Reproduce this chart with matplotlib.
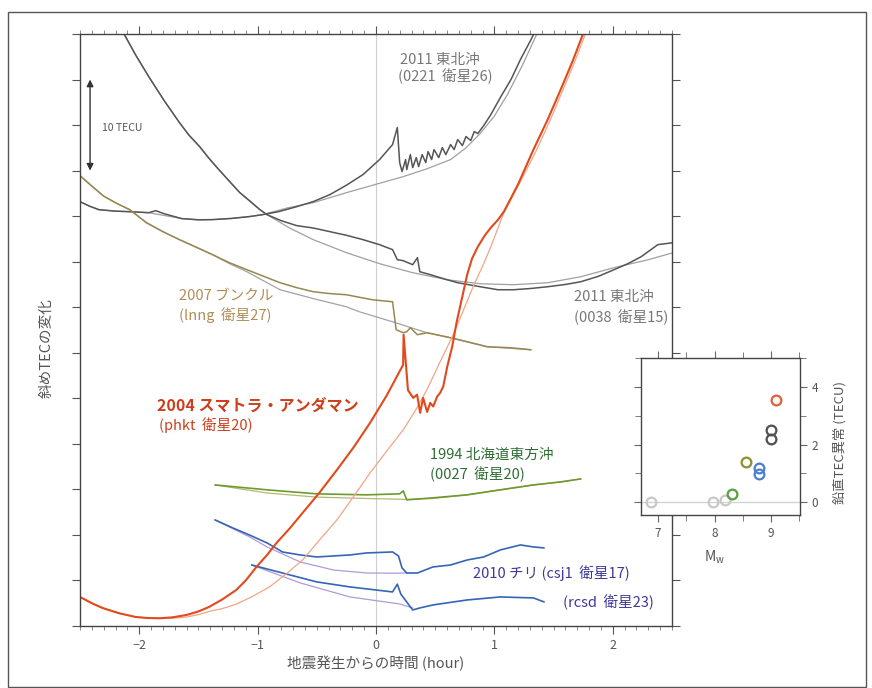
import matplotlib
matplotlib.use("Agg")
import matplotlib.pyplot as plt
from matplotlib.patches import Rectangle
from matplotlib.ticker import MultipleLocator, NullFormatter

plt.rcParams['font.family'] = ['Noto Sans CJK JP', 'DejaVu Sans']

# ---- slant TEC traces (hours from onset, TECU offset) ----
# 2004 Sumatra-Andaman (phkt, sat 20)
sum_t = [-2.50, -2.40, -2.31, -2.17, -2.03, -1.93, -1.83, -1.72, -1.60, -1.50, -1.41, -1.30,
         -1.18, -1.10, -1.01, -0.92, -0.84, -0.73, -0.62, -0.48, -0.33, -0.19, -0.05, 0.09,
         0.229, 0.233, 0.27, 0.314, 0.347, 0.373, 0.398, 0.432, 0.458, 0.483, 0.517, 0.542,
         0.568, 0.602, 0.644, 0.68, 0.71, 0.77, 0.81, 0.86, 0.92, 0.97, 1.03, 1.08, 1.20,
         1.33, 1.45, 1.56, 1.66, 1.75, 1.80]
sum_v = [3.19, 2.50, 1.98, 1.40, 0.99, 0.88, 0.85, 0.95, 1.21, 1.60, 2.09, 2.90,
         3.96, 5.00, 6.48, 7.80, 9.12, 10.70, 12.42, 14.60, 17.14, 19.60, 22.31, 25.30,
         28.68, 31.98, 25.90, 25.05, 25.40, 23.40, 25.05, 23.50, 24.50, 24.10, 25.20, 25.60,
         26.30, 28.50, 30.70, 33.30, 35.05, 38.57, 40.30, 41.65, 42.90, 43.74, 44.60, 45.49,
         48.50, 52.31, 55.60, 58.90, 62.00, 65.05, 67.00]
sum_ref_t = [-2.50, -2.40, -2.31, -2.17, -2.03, -1.93, -1.83, -1.72, -1.60, -1.50, -1.41,
             -1.30, -1.18, -1.05, -0.90, -0.76, -0.62, -0.48, -0.33, -0.19, -0.05, 0.09,
             0.23, 0.33, 0.43, 0.53, 0.64, 0.73, 0.82, 0.90, 0.97, 1.08, 1.22, 1.35, 1.47,
             1.58, 1.68, 1.77, 1.82]
sum_ref_v = [3.19, 2.50, 1.98, 1.40, 0.99, 0.88, 0.82, 0.85, 0.98, 1.25, 1.60,
             1.90, 2.40, 3.20, 4.29, 5.70, 7.25, 9.40, 11.65, 14.20, 16.81, 19.20,
             21.54, 23.60, 25.93, 28.70, 31.65, 34.40, 37.25, 39.50, 41.65, 45.38, 48.80,
             52.09, 55.50, 58.90, 62.00, 65.05, 67.00]

# 2011 Tohoku-oki (0221, sat 26)
toh26_t = [-2.50, -2.42, -2.34, -2.20, -2.08, -1.92, -1.86, -1.79, -1.64, -1.50, -1.38, -1.22,
           -1.07, -0.96, -0.82, -0.67, -0.53, -0.39, -0.25, -0.11, 0.03, 0.14, 0.18, 0.20,
           0.22, 0.25, 0.26, 0.29, 0.31, 0.34, 0.36, 0.39, 0.42, 0.44, 0.47, 0.49, 0.53,
           0.56, 0.59, 0.63, 0.66, 0.69, 0.73, 0.76, 0.80, 0.83, 0.86, 0.91, 0.97, 1.05,
           1.14, 1.22, 1.31, 1.35]
toh26_v = [46.59, 46.10, 45.71, 45.55, 45.49, 45.38, 45.60, 45.27, 44.73, 44.60, 44.62, 44.75,
           44.95, 45.16, 45.50, 46.04, 46.60, 47.36, 48.40, 49.56, 51.21, 52.86, 54.73, 50.88,
           49.89, 51.21, 50.11, 51.76, 50.33, 51.43, 50.44, 51.76, 50.88, 52.09, 51.21, 52.31,
           51.43, 52.53, 51.76, 52.86, 52.31, 53.41, 52.75, 53.74, 53.30, 54.29, 54.07,
           54.95, 56.15, 58.02, 60.00, 62.20, 64.40, 65.50]
toh26_ref_t = [-2.50, -2.42, -2.34, -2.20, -2.08, -1.92, -1.64, -1.50, -1.38, -1.22, -1.07,
               -0.96, -0.75, -0.53, -0.25, 0.00, 0.23, 0.43, 0.63, 0.76, 0.88, 1.00, 1.11,
               1.24, 1.36, 1.39]
toh26_ref_v = [46.59, 46.10, 45.71, 45.55, 45.49, 45.38, 44.73, 44.60, 44.62, 44.75, 44.95,
               45.16, 45.90, 46.48, 47.58, 48.50, 49.34, 50.20, 51.21, 52.50, 54.07, 56.00,
               58.35, 61.65, 65.05, 66.00]

# 2011 Tohoku-oki (0038, sat 15)
toh15_t = [-2.19, -2.13, -2.03, -1.92, -1.79, -1.66, -1.58, -1.49, -1.42, -1.35, -1.25, -1.15,
           -1.06, -0.98, -0.92, -0.80, -0.67, -0.53, -0.39, -0.25, -0.11, 0.03, 0.14, 0.18,
           0.23, 0.31, 0.35, 0.37, 0.46, 0.60, 0.69, 0.88, 1.03, 1.16, 1.30, 1.45, 1.60,
           1.73, 1.88, 2.01, 2.13, 2.24, 2.38, 2.51]
toh15_v = [66.6, 65.05, 62.70, 60.33, 57.70, 55.27, 53.90, 52.64, 51.50, 50.44, 49.00, 47.58,
           46.60, 45.71, 45.16, 44.50, 43.96, 43.70, 43.30, 42.90, 42.42, 41.87, 41.32, 40.22,
           40.11, 39.67, 40.44, 38.90, 38.57, 38.02, 37.69, 37.25, 36.92, 36.92, 37.05, 37.25,
           37.50, 37.80, 38.40, 39.12, 39.80, 40.55, 41.87, 42.09]
toh15_ref_t = [-2.19, -2.13, -2.03, -1.92, -1.79, -1.66, -1.58, -1.49, -1.42, -1.35, -1.25,
               -1.15, -1.06, -0.98, -0.92, -0.73, -0.53, -0.25, 0.03, 0.31, 0.60, 0.88, 1.16,
               1.45, 1.73, 2.01, 2.30, 2.51]
toh15_ref_v = [66.6, 65.05, 62.70, 60.33, 57.70, 55.27, 53.90, 52.64, 51.50, 50.44, 49.00,
               47.58, 46.60, 45.71, 45.16, 43.70, 42.42, 40.99, 39.78, 38.79, 38.02, 37.58,
               37.47, 37.69, 38.35, 39.34, 40.22, 40.99]

# 2007 Bengkulu (lnng, sat 27)
ben_t = [-2.51, -2.40, -2.30, -2.19, -2.08, -1.94, -1.80, -1.66, -1.52, -1.38, -1.24, -1.09,
         -0.95, -0.81, -0.67, -0.53, -0.39, -0.25, -0.03, 0.14, 0.17, 0.23, 0.26, 0.29, 0.35,
         0.43, 0.63, 0.77, 0.94, 1.14, 1.31]
ben_v = [49.56, 48.30, 47.20, 46.40, 45.71, 44.29, 43.30, 42.42, 41.60, 40.77, 39.90, 39.12,
         38.40, 37.69, 37.15, 36.70, 36.50, 36.37, 35.82, 35.60, 32.53, 32.20, 32.31, 32.75,
         31.98, 32.20, 31.65, 31.21, 30.66, 30.55, 30.33]
ben_ref_t = [-2.51, -2.40, -2.30, -2.19, -2.08, -1.94, -1.80, -1.66, -1.52, -1.38, -1.24,
             -1.09, -0.95, -0.81, -0.53, -0.25, -0.14, 0.14, 0.43, 0.63, 0.94, 1.31]
ben_ref_v = [49.56, 48.30, 47.20, 46.40, 45.71, 44.29, 43.30, 42.42, 41.60, 40.77, 39.80,
             38.90, 37.90, 36.92, 35.95, 35.05, 34.50, 33.40, 32.20, 31.65, 30.66, 30.33]

# 1994 Hokkaido-Toho-oki (0027, sat 20)
hok_t = [-1.36, -0.92, -0.50, -0.08, 0.20, 0.23, 0.26, 0.48, 0.77, 1.05, 1.33, 1.56, 1.73]
hok_v = [15.49, 14.95, 14.51, 14.40, 14.51, 14.84, 13.85, 14.07, 14.40, 14.95, 15.49, 15.82, 16.15]
hok_ref_t = [-1.36, -0.92, -0.50, -0.08, 0.26, 0.48, 0.77, 1.05, 1.33, 1.56, 1.73]
hok_ref_v = [15.49, 14.60, 14.15, 14.00, 13.90, 14.00, 14.40, 14.95, 15.49, 15.82, 16.15]

# 2010 Chile (csj1, sat 17)
csj_t = [-1.36, -1.21, -1.07, -0.92, -0.79, -0.64, -0.50, -0.36, -0.22, -0.08, 0.14, 0.19,
         0.22, 0.26, 0.35, 0.48, 0.63, 0.77, 0.91, 1.05, 1.22, 1.33, 1.42]
csj_v = [11.65, 10.77, 10.00, 9.12, 8.13, 7.80, 7.58, 7.69, 7.80, 8.02, 8.13, 7.69,
         6.37, 5.82, 5.82, 6.48, 6.70, 7.25, 7.58, 8.35, 8.90, 8.68, 8.57]
csj_ref_t = [-1.36, -1.07, -0.92, -0.64, -0.36, -0.08, 0.14, 0.26]
csj_ref_v = [11.65, 9.80, 8.68, 7.03, 6.15, 5.82, 5.80, 5.82]

# 2010 Chile (rcsd, sat 23)
rcs_t = [-1.05, -0.79, -0.50, -0.22, 0.14, 0.18, 0.21, 0.31, 0.37, 0.48, 0.77, 1.05, 1.33, 1.42]
rcs_v = [6.70, 5.82, 4.84, 4.29, 3.74, 4.60, 3.50, 1.76, 1.98, 2.31, 2.86, 3.19, 3.08, 2.64]
rcs_ref_t = [-1.05, -0.64, -0.22, 0.20, 0.31]
rcs_ref_v = [6.70, 4.73, 3.19, 2.42, 1.98]

# ---- vertical TEC anomaly versus moment magnitude ----
mw = [6.88, 7.98, 8.19, 8.30, 8.56, 8.78, 8.78, 8.99, 8.99, 9.09]
vtec = [0.0, 0.0, 0.06, 0.29, 1.39, 1.19, 0.99, 2.49, 2.20, 3.56]
mw_colors = ['#c8c8c8', '#c8c8c8', '#c8c8c8', '#5aa040', '#8c9030', '#4a7ed0', '#4a7ed0',
             '#505050', '#505050', '#e0603a']

xticks = [-2, -1, 0, 1, 2]

fig = plt.figure(figsize=(8.72, 6.88), dpi=100)
fig.patches.append(Rectangle((8 / 872, 1 / 688), 858 / 872, 675 / 688, transform=fig.transFigure,
                             fill=False, edgecolor='#555555', linewidth=1.0))

ax = fig.add_axes([80 / 872, 62 / 688, 592 / 872, 592 / 688])
ax.set_xlim(-2.5, 2.5)
ax.set_ylim(0, 65)
ax.axvline(0, color='#cfcfcf', lw=0.8, zorder=0)

line_kw = dict(solid_joinstyle='round', solid_capstyle='round')
ax.plot(toh15_ref_t, toh15_ref_v, color='#a0a0a0', lw=0.9, **line_kw)
ax.plot(toh15_t, toh15_v, color='#555555', lw=1.1, **line_kw)
ax.plot(toh26_ref_t, toh26_ref_v, color='#a0a0a0', lw=0.9, **line_kw)
ax.plot(toh26_t, toh26_v, color='#555555', lw=1.1, **line_kw)
ax.plot(ben_ref_t, ben_ref_v, color='#a3a3a3', lw=0.9, **line_kw)
ax.plot(ben_t, ben_v, color='#98884e', lw=1.1, **line_kw)
ax.plot(hok_ref_t, hok_ref_v, color='#b4b870', lw=0.9, **line_kw)
ax.plot(hok_t, hok_v, color='#6f9a30', lw=1.2, **line_kw)
ax.plot(csj_ref_t, csj_ref_v, color='#b09ad8', lw=0.9, **line_kw)
ax.plot(csj_t, csj_v, color='#3565b5', lw=1.2, **line_kw)
ax.plot(rcs_ref_t, rcs_ref_v, color='#b09ad8', lw=0.9, **line_kw)
ax.plot(rcs_t, rcs_v, color='#3565b5', lw=1.2, **line_kw)
ax.plot(sum_ref_t, sum_ref_v, color='#f2a586', lw=0.9, **line_kw)
ax.plot(sum_t, sum_v, color='#e24a1c', lw=1.5, **line_kw)

# scale bar
ax.annotate('', xy=(-2.415, 60), xytext=(-2.415, 50),
            arrowprops=dict(arrowstyle='<|-|>', color='#333333', lw=1.0,
                            mutation_scale=10, shrinkA=0, shrinkB=0))
ax.text(-2.31, 54.7, '10 TECU', fontsize=7.5, color='#555555', va='center', ha='left')

lab = dict(fontsize=10.5, va='center', ha='left')
ax.text(0.20, 62.2, '2011 東北沖', color='#777777', **lab)
ax.text(0.19, 60.3, '(0221  衛星26)', color='#777777', **lab)
ax.text(-1.66, 36.15, '2007 ブンクル', color='#b08e58', **lab)
ax.text(-1.66, 34.1, '(lnng  衛星27)', color='#b08e58', **lab)
ax.text(1.67, 36.15, '2011 東北沖', color='#777777', clip_on=True, **lab)
ax.text(1.67, 33.85, '(0038  衛星15)', color='#777777', clip_on=True, **lab)
ax.text(-1.85, 24.18, '2004 スマトラ・アンダマン', color='#cc3f1c', fontsize=11.5,
        fontweight='bold', va='center', ha='left')
ax.text(-1.83, 22.09, '(phkt  衛星20)', color='#cc3f1c', **lab)
ax.text(0.46, 18.79, '1994 北海道東方沖', color='#2f6e34', **lab)
ax.text(0.46, 16.70, '(0027  衛星20)', color='#2f6e34', **lab)
ax.text(0.82, 5.82, '2010 チリ (csj1  衛星17)', color='#3d3a9a', **lab)
ax.text(1.58, 2.64, '(rcsd  衛星23)', color='#3d3a9a', **lab)

for s in ax.spines.values():
    s.set_color('#444444')
    s.set_linewidth(1.0)
ax.set_xticks(xticks)
ax.xaxis.set_minor_locator(MultipleLocator(0.1))
ax.yaxis.set_major_locator(MultipleLocator(5))
ax.yaxis.set_major_formatter(NullFormatter())
ax.tick_params(axis='both', which='major', direction='out', length=6, width=0.8,
               color='#555555', labelcolor='#555555', labelsize=9,
               top=True, right=True)
ax.tick_params(axis='x', which='minor', direction='out', length=3, width=0.6,
               color='#777777', top=True)
ax.set_xlabel('地震発生からの時間 (hour)', fontsize=10.5, color='#555555', va='center')
ax.xaxis.set_label_coords(0.5, -0.0625)
ax.set_ylabel('斜めTECの変化', fontsize=10.5, color='#555555', va='center')
ax.yaxis.set_label_coords(-0.056, 0.47)

# ---- inset ----
ax2 = fig.add_axes([641 / 872, 173 / 688, 159 / 872, 157 / 688])
ax2.set_facecolor('white')
ax2.set_xlim(6.70, 9.51)
ax2.set_ylim(-0.45, 5.01)
ax2.axhline(0, color='#d4d4d4', lw=1.0, zorder=0)
for x, y, c in zip(mw, vtec, mw_colors):
    ax2.plot([x], [y], 'o', markersize=7, markerfacecolor='none', markeredgecolor=c,
             markeredgewidth=1.6)
for s in ax2.spines.values():
    s.set_color('#444444')
    s.set_linewidth(1.0)
ax2.set_xticks([7, 8, 9])
ax2.xaxis.set_minor_locator(MultipleLocator(0.5))
ax2.set_yticks([0, 2, 4])
ax2.yaxis.set_minor_locator(MultipleLocator(1))
ax2.yaxis.tick_right()
ax2.tick_params(axis='both', which='both', direction='out', color='#666666',
                labelcolor='#555555', labelsize=8.5, top=True, left=True, right=True)
ax2.tick_params(which='major', length=5, width=0.8)
ax2.tick_params(which='minor', length=4, width=0.6)
ax2.set_xlabel(r'M$_{\mathregular{w}}$', fontsize=10, color='#555555', va='center')
ax2.xaxis.set_label_coords(0.46, -0.27)
ax2.yaxis.set_label_position('right')
ax2.set_ylabel('鉛直TEC異常 (TECU)', fontsize=9.5, color='#555555', va='center',
               rotation=90)
ax2.yaxis.set_label_coords(1.25, 0.46)

fig.savefig('out.png', dpi=100)
